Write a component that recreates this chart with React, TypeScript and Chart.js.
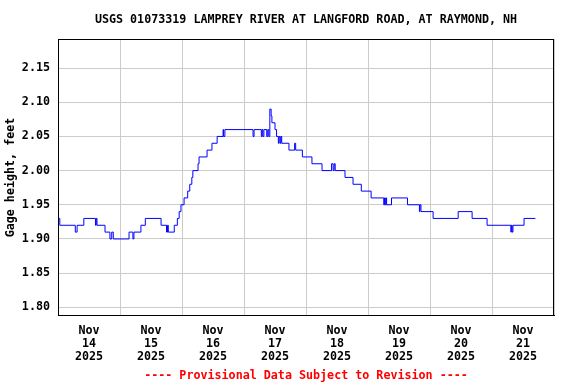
import React, { useEffect, useRef } from "react";
import { Chart, registerables } from "chart.js";

Chart.register(...registerables);

const chartTitle = "USGS 01073319 LAMPREY RIVER AT LANGFORD ROAD, AT RAYMOND, NH";
const footnote = "---- Provisional Data Subject to Revision ----";
const yAxisTitle = "Gage height, feet";

// hours since Nov 14 2025 00:00
const hours = [
  0, 0.7, 6.7, 7.4, 10.0, 14.5, 14.8, 15.1, 18.2, 20.1, 20.8, 21.4, 27.5, 29.0, 29.4,
  32.1, 33.8, 39.9, 42.0, 42.4, 42.7, 45.0, 46.2, 46.9, 47.6, 48.8, 50.2, 51.0, 51.8,
  52.2, 54.2, 54.6, 57.7, 59.6, 61.6, 63.9, 64.1, 64.6, 75.5, 75.9, 78.7, 79.0, 79.3,
  79.7, 80.8, 81.2, 81.6, 82.0, 82.5, 82.8, 84.0, 84.6, 85.3, 85.6, 86.0, 86.3, 86.6,
  89.4, 91.6, 92.0, 94.6, 98.3, 102.2, 105.9, 106.5, 106.9, 107.3, 111.1, 114.2, 117.4,
  121.2, 126.1, 126.4, 126.7, 127.0, 127.2, 129.1, 135.3, 139.9, 140.1, 140.5, 145.2,
  154.9, 160.3, 166.1, 175.3, 175.5, 175.8, 176.1, 180.4, 184.8,
];
const gageHeights = [
  1.93, 1.92, 1.91, 1.92, 1.93, 1.92, 1.93, 1.92, 1.91, 1.90, 1.91, 1.90, 1.91, 1.90, 1.91,
  1.92, 1.93, 1.92, 1.91, 1.92, 1.91, 1.92, 1.93, 1.94, 1.95, 1.96, 1.97, 1.98, 1.99,
  2.00, 2.01, 2.02, 2.03, 2.04, 2.05, 2.06, 2.05, 2.06, 2.05, 2.06, 2.05, 2.06, 2.05,
  2.06, 2.05, 2.06, 2.05, 2.09, 2.08, 2.07, 2.06, 2.05, 2.04, 2.05, 2.04, 2.05, 2.04,
  2.03, 2.04, 2.03, 2.02, 2.01, 2.00, 2.01, 2.00, 2.01, 2.00, 1.99, 1.98, 1.97,
  1.96, 1.95, 1.96, 1.95, 1.96, 1.95, 1.96, 1.95, 1.94, 1.95, 1.94, 1.93,
  1.94, 1.93, 1.92, 1.91, 1.92, 1.91, 1.92, 1.93, 1.93,
];

const yTicks = [1.8, 1.85, 1.9, 1.95, 2.0, 2.05, 2.1, 2.15];
const dayBoundaryHours = [0, 24, 48, 72, 96, 120, 144, 168, 192];
const labelHours = [12, 36, 60, 84, 108, 132, 156, 180];
const monthLabel = "Nov";
const dayLabels = ["14", "15", "16", "17", "18", "19", "20", "21"];
const yearLabel = "2025";

const FONT = "'DejaVu Sans Mono', monospace";

const frame = {
  id: "frame",
  afterDatasetsDraw(chart: any) {
    const { ctx, chartArea } = chart;
    const l = Math.round(chartArea.left) + 0.5;
    const t = Math.round(chartArea.top) + 0.5;
    const r = Math.round(chartArea.right) - 0.5;
    const b = Math.round(chartArea.bottom) - 0.5;
    ctx.save();
    ctx.strokeStyle = "#000000";
    ctx.lineWidth = 1;
    ctx.strokeRect(l, t, r - l, b - t);
    ctx.restore();
  },
};

export default function App() {
  const ref = useRef<HTMLCanvasElement | null>(null);
  useEffect(() => {
    document.body.style.margin = "0";
    if (!ref.current) return;
    const font = { family: FONT, size: 11.7, weight: "bold" as const, lineHeight: 1.2 };
    const chart = new Chart(ref.current, {
      type: "line",
      data: {
        datasets: [
          {
            data: hours.map((h, i) => ({ x: h, y: gageHeights[i] })),
            borderColor: "#0000ff",
            borderWidth: 1,
            pointRadius: 0,
            stepped: true,
            fill: false,
          },
        ],
      },
      plugins: [frame],
      options: {
        animation: false,
        responsive: false,
        layout: { padding: { left: 0, right: 22, top: 0, bottom: 0 } },
        plugins: {
          legend: { display: false },
          tooltip: { enabled: false },
          title: {
            display: true,
            text: chartTitle,
            color: "#000000",
            font,
            fullSize: false,
            padding: { top: 13, bottom: 12 },
          },
          subtitle: {
            display: true,
            position: "bottom",
            text: footnote,
            color: "#ff0000",
            font,
            fullSize: false,
            padding: { top: 3, bottom: 1 },
          },
        },
        scales: {
          x: {
            type: "linear",
            min: 0,
            max: 192,
            afterBuildTicks: (s: any) => {
              s.ticks = [...dayBoundaryHours, ...labelHours]
                .sort((a, b) => a - b)
                .map((v) => ({ value: v }));
            },
            afterFit: (s: any) => {
              s.height = 50;
            },
            grid: {
              drawTicks: false,
              color: (c: any) =>
                c.tick && dayBoundaryHours.includes(c.tick.value) ? "#cccccc" : "rgba(0,0,0,0)",
            },
            border: { display: true, color: "#000000", width: 1 },
            ticks: {
              autoSkip: false,
              maxRotation: 0,
              minRotation: 0,
              padding: 8,
              color: "#000000",
              font: { ...font, lineHeight: 1.14 },
              callback: (v: any) => {
                const i = labelHours.indexOf(Number(v));
                return i >= 0 ? [monthLabel, dayLabels[i], yearLabel] : "";
              },
            },
          },
          y: {
            type: "linear",
            min: 1.7873,
            max: 2.1925,
            afterBuildTicks: (s: any) => {
              s.ticks = yTicks.map((v) => ({ value: v }));
            },
            afterFit: (s: any) => {
              s.width = 58;
            },
            grid: { drawTicks: false, color: "#cccccc" },
            border: { display: true, color: "#000000", width: 1 },
            ticks: {
              padding: 8,
              color: "#000000",
              font,
              callback: (v: any) => Number(v).toFixed(2),
            },
            title: {
              display: true,
              text: yAxisTitle,
              color: "#000000",
              font,
              padding: { top: 4, bottom: 0 },
            },
          },
        },
      },
    });
    return () => chart.destroy();
  }, []);
  return (
    <div style={{ position: "absolute", left: 0, top: 0, width: 576, height: 384, background: "#ffffff" }}>
      <canvas ref={ref} width={576} height={384} />
    </div>
  );
}
